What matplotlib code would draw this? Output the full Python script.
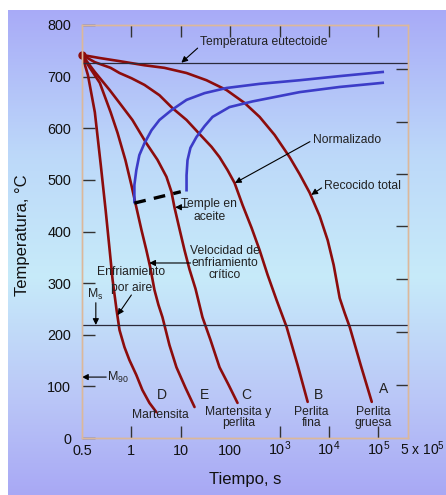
import numpy as np
import matplotlib
matplotlib.use("Agg")
import matplotlib.pyplot as plt

plt.rcParams['font.family'] = ['Liberation Sans', 'DejaVu Sans']
plt.rcParams['mathtext.fontset'] = 'custom'
plt.rcParams['mathtext.rm'] = 'Liberation Sans'
plt.rcParams['mathtext.it'] = 'Liberation Sans:italic'

# cooling curves (time in s, temperature in C)
D_t = [0.5, 0.56, 0.63, 0.69, 0.74, 0.78, 0.81, 0.85, 0.88, 0.93, 0.98, 1.26, 1.67, 2.32, 3.21]
D_T = [742, 703, 631, 529, 440, 364, 306, 248, 209, 176, 151, 122, 93, 68, 50]
E_t = [0.5, 0.58, 0.68, 0.79, 0.86, 0.94, 1.0, 1.26, 1.6, 2.01, 2.43, 2.93, 3.53, 4.26, 5.9,
       8.18, 12.5, 19]
E_T = [742, 717, 688, 631, 591, 538, 490, 447, 403, 364, 329, 287, 258, 234, 180, 137, 97, 60]
C_t = [0.5, 0.63, 0.78, 0.88, 1.05, 2.01, 3.37, 5.13, 6.47, 7.45, 9.42, 11.9, 15, 19.9, 27.5,
       40, 61, 93, 141]
C_T = [742, 709, 674, 649, 616, 571, 539, 506, 477, 447, 405, 364, 327, 289, 234, 190, 137,
       103, 68]
B_t = [0.5, 0.63, 0.79, 0.88, 1.0, 1.84, 3.7, 6.79, 13.1, 23.9, 42, 61, 88.5, 123, 179, 272,
       395, 574, 873, 1393, 2330, 3715]
B_T = [742, 728, 717, 707, 697, 684, 664, 639, 616, 589, 564, 544, 519, 494, 451, 407, 364,
       316, 267, 215, 141, 70]
A_t = [0.5, 0.68, 0.88, 1.84, 4.67, 13.1, 33.2, 84.5, 196, 395, 796, 1603, 2558, 4083, 6506,
       9460, 12500, 16550, 20900, 26400, 44200, 73800]
A_T = [742, 736, 730, 722, 717, 707, 693, 674, 649, 622, 587, 544, 511, 475, 430, 383, 335,
       271, 242, 215, 141, 70]

# transformation start / end curves
start_t = [1.15, 1.15, 1.26, 1.45, 1.84, 2.55, 3.7, 6.47, 13.1, 30.3, 84.5, 395, 2558, 16550,
           1.23e5]
start_T = [457, 490, 519, 548, 571, 596, 616, 635, 655, 668, 678, 686, 693, 701, 709]
end_t = [13.1, 13.1, 13.7, 15.7, 20.8, 30.3, 44, 97, 285, 2558, 16550, 1.23e5]
end_T = [480, 509, 538, 562, 583, 604, 622, 641, 652, 670, 680, 688]
quench_t = [1.15, 10]
quench_T = [455, 477]

T_eutectoid = 727
T_ms = 218

x_ticks = [0.5, 1, 10, 100, 1e3, 1e4, 1e5]
x_labels = ['0.5', '1', '10', '100', r'10$^\mathrm{3}$', r'10$^\mathrm{4}$', r'10$^\mathrm{5}$']
y_ticks = [0, 100, 200, 300, 400, 500, 600, 700, 800]
right_ticks = [103, 205, 308, 410, 512, 612, 715]


def fwd(t):
    t = np.asarray(t, dtype=float)
    return np.where(t < 1, (t - 0.5) / 0.5, 1 + np.log10(np.maximum(t, 1e-12)))


def inv(u):
    u = np.asarray(u, dtype=float)
    return np.where(u < 1, 0.5 + 0.5 * u, 10 ** (np.minimum(u, 30) - 1))


fig = plt.figure(figsize=(4.46, 4.95), dpi=100)

# background gradient
bg = fig.add_axes([8 / 446, 0, 1 - 8 / 446, 1 - 10 / 495], zorder=0)
f = np.linspace(0, 1, 256)
stops = [0, 0.3, 0.55, 0.8, 1.0]
cols = np.array([[0.66, 0.67, 0.97], [0.74, 0.85, 0.98], [0.78, 0.92, 0.98],
                 [0.73, 0.78, 0.97], [0.66, 0.66, 0.96]])
grad = np.stack([np.interp(f, stops, cols[:, i]) for i in range(3)], axis=-1)
bg.imshow(grad[:, None, :], aspect='auto', extent=[0, 1, 0, 1])
bg.axis('off')

ax = fig.add_axes([82 / 446, 1 - 438 / 495, 326 / 446, 413 / 495], zorder=1)
ax.set_facecolor('none')
ax.set_xscale('function', functions=(fwd, inv))
ax.set_xlim(0.5, 4e5)
ax.set_ylim(0, 800)

red = '#8c0c0c'
blue = '#3c3cc8'
for tt, TT in [(D_t, D_T), (E_t, E_T), (C_t, C_T), (B_t, B_T), (A_t, A_T)]:
    ax.plot(tt, TT, color=red, lw=1.9, solid_capstyle='round', solid_joinstyle='round')
ax.plot(0.5, 742, marker='o', ms=5, color=red, clip_on=False)
ax.plot(start_t, start_T, color=blue, lw=1.9, solid_joinstyle='round')
ax.plot(end_t, end_T, color=blue, lw=1.9, solid_joinstyle='round')
ax.plot(quench_t, quench_T, color='k', lw=2.4, dashes=(3.5, 2.5))

ax.axhline(T_eutectoid, color='#2b2b3b', lw=0.9)
ax.axhline(T_ms, color='#2b2b3b', lw=0.9)

txt = '#222222'
fs = 8.7
arw = dict(arrowstyle='-|>', lw=0.8, color='k', mutation_scale=9, shrinkA=0, shrinkB=0)

ax.annotate('Temperatura eutectoide', xy=(10.3, 727), xytext=(25, 767), ha='left', va='center',
            fontsize=fs, color=txt, arrowprops=dict(arw, relpos=(0, 0.2)))
ax.annotate('Normalizado', xy=(125, 494), xytext=(4700, 577), ha='left', va='center',
            fontsize=fs, color=txt, arrowprops=dict(arw, relpos=(0, 0.5)))
ax.annotate('Recocido total', xy=(4400, 471), xytext=(8100, 488), ha='left', va='center',
            fontsize=fs, color=txt, arrowprops=dict(arw, relpos=(0, 0.5)))
ax.text(38, 441, 'Temple en\naceite', ha='center', va='center', fontsize=fs, color=txt,
        linespacing=1.05)
ax.annotate('', xy=(7.7, 447), xytext=(14, 447), arrowprops=arw)
ax.text(77, 339, 'Velocidad de\nenfriamiento\ncrítico', ha='center', va='center', fontsize=fs,
        color=txt, linespacing=0.95)
ax.annotate('', xy=(2.3, 339), xytext=(15.8, 339), arrowprops=arw)
ax.text(1.0, 322, 'Enfriamiento', ha='center', va='center', fontsize=fs, color=txt)
ax.text(1.0, 291, 'por aire', ha='center', va='center', fontsize=fs, color=txt)
ax.annotate('', xy=(0.86, 238), xytext=(1.0, 277), arrowprops=arw)
ax.text(0.63, 279, r'M$_\mathrm{s}$', ha='center', va='center', fontsize=8.8, color=txt)
ax.annotate('', xy=(0.64, 219), xytext=(0.64, 262), arrowprops=arw)
ax.text(0.75, 118, r'M$_\mathrm{90}$', ha='left', va='center', fontsize=9, color=txt)
ax.annotate('', xy=(0.5, 118), xytext=(0.745, 118), arrowprops=arw)

ax.text(4.1, 83, 'D', ha='center', va='center', fontsize=10, color=txt)
ax.text(30, 83, 'E', ha='center', va='center', fontsize=10, color=txt)
ax.text(214, 83, 'C', ha='center', va='center', fontsize=10, color=txt)
ax.text(6170, 83, 'B', ha='center', va='center', fontsize=10, color=txt)
ax.text(1.29e5, 95, 'A', ha='center', va='center', fontsize=10, color=txt)
ax.text(3.9, 45, 'Martensita', ha='center', va='center', fontsize=fs, color=txt)
ax.text(148, 40, 'Martensita y\nperlita', ha='center', va='center', fontsize=fs, color=txt,
        linespacing=0.95)
ax.text(4470, 40, 'Perlita\nfina', ha='center', va='center', fontsize=fs, color=txt,
        linespacing=0.95)
ax.text(77600, 40, 'Perlita\ngruesa', ha='center', va='center', fontsize=fs, color=txt,
        linespacing=0.95)

# axes styling
spine_c = '#dcb89a'
ax.set_xticks(x_ticks)
ax.set_xticklabels(x_labels)
ax.set_yticks(y_ticks)
ax.tick_params(axis='x', direction='in', top=True, length=8.6, width=1, color='#333333',
               labelsize=10.4, pad=12.2, labelcolor='#111111')
ax.tick_params(axis='y', direction='in', right=False, length=9.2, width=1, color='#333333',
               labelsize=10.4, pad=8, labelcolor='#111111')
for lab in ax.get_xticklabels():
    lab.set_va('baseline')
xt = ax.xaxis.get_major_ticks()
xt[0].tick1line.set_visible(False)
xt[0].tick2line.set_visible(False)
xt[3].tick1line.set_visible(False)
yt = ax.yaxis.get_major_ticks()
yt[0].tick1line.set_visible(False)
yt[-1].tick1line.set_visible(False)
for s in ax.spines.values():
    s.set_color(spine_c)
    s.set_linewidth(1)

ax.text(1.043, -17 / 413, r'5 x 10$^\mathrm{5}$', transform=ax.transAxes, ha='center',
        va='baseline', fontsize=10, color='#111111', clip_on=False)

ax.set_xlabel('Tiempo, s', fontsize=12, color='#111111')
ax.xaxis.set_label_coords(0.5, -0.082)
ax.set_ylabel('Temperatura, °C', fontsize=12, color='#111111')
ax.yaxis.set_label_coords(-0.16, 0.49)

ax2 = ax.twinx()
ax2.set_ylim(0, 800)
ax2.set_yticks(right_ticks)
ax2.tick_params(axis='y', direction='in', length=8.6, width=1, color='#333333', labelright=False)
for s in ax2.spines.values():
    s.set_color(spine_c)
    s.set_linewidth(1)

fig.savefig('out.png', dpi=100, facecolor='white')
